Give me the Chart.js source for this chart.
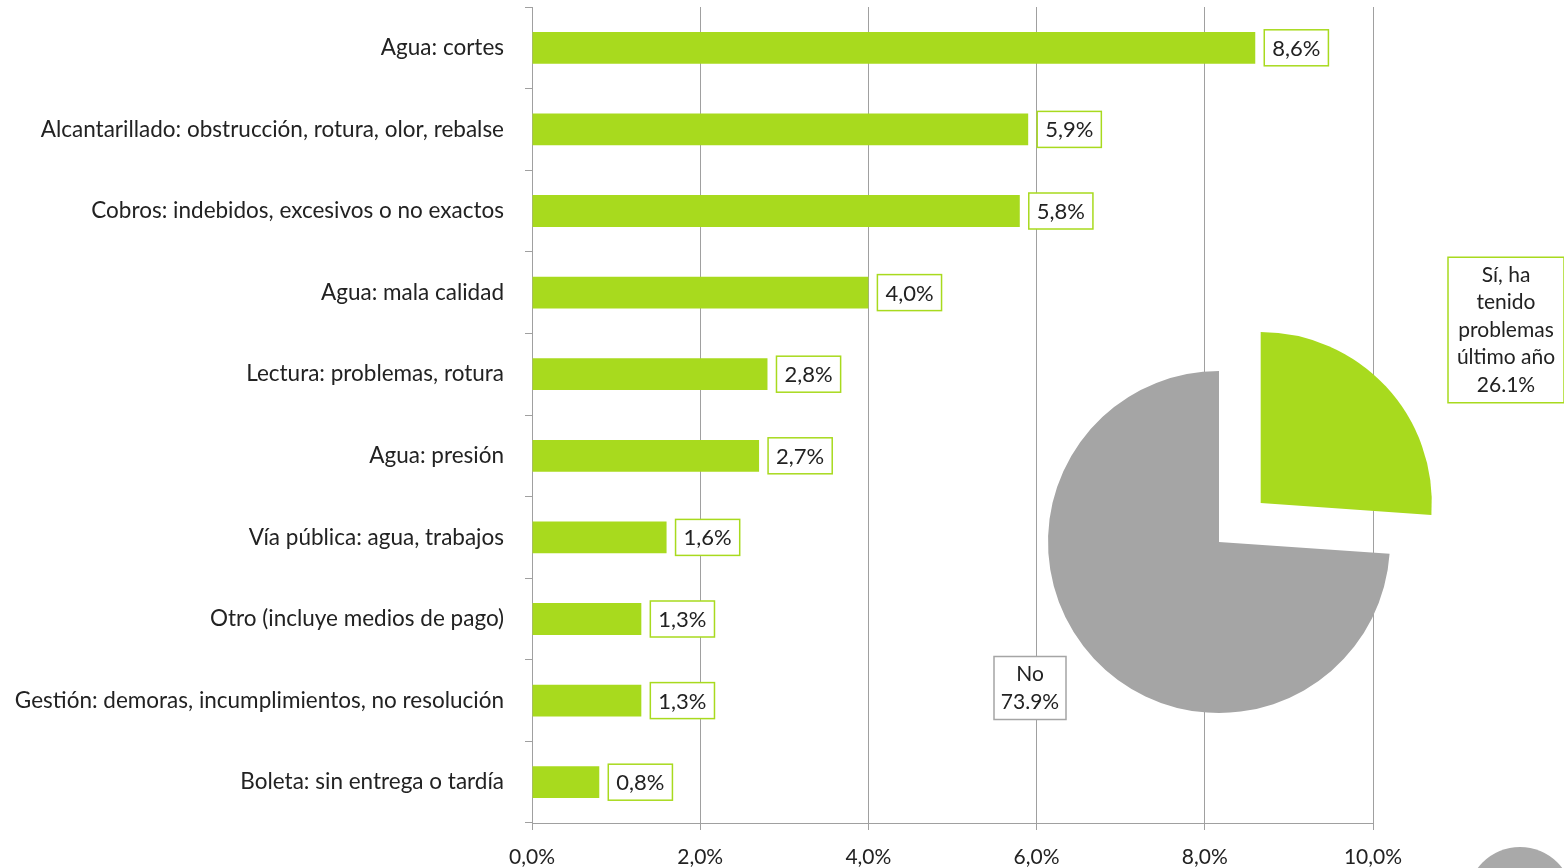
<!DOCTYPE html>
<html>
<head>
<meta charset="utf-8">
<script src="https://cdn.jsdelivr.net/npm/chart.js@4.4.1/dist/chart.umd.min.js"></script>
<style>
  html, body { margin: 0; padding: 0; background: #fff; }
  #wrap { position: relative; width: 1564px; height: 868px; overflow: hidden; }
  #wrap canvas { position: absolute; left: 0; top: 0; }
  #pieChart { pointer-events: none; }
</style>
</head>
<body>
<div id="wrap">
  <canvas id="barChart" width="1564" height="868"></canvas>
  <canvas id="pieChart" width="1564" height="868"></canvas>
</div>
<script>
const categories = [
    'Agua: cortes',
    'Alcantarillado: obstrucción, rotura, olor, rebalse',
    'Cobros: indebidos, excesivos o no exactos',
    'Agua: mala calidad',
    'Lectura: problemas, rotura',
    'Agua: presión',
    'Vía pública: agua, trabajos',
    'Otro (incluye medios de pago)',
    'Gestión: demoras, incumplimientos, no resolución',
    'Boleta: sin entrega o tardía'
];
const problemShares = [8.6, 5.9, 5.8, 4.0, 2.8, 2.7, 1.6, 1.3, 1.3, 0.8];
const xTicks = [0, 2, 4, 6, 8, 10];

const pieLabels = [['Sí, ha', 'tenido', 'problemas', 'último año'], ['No']];
const pieValues = [26.1, 73.9];

const FONT = 'Lato';
const TEXT = '#222222';
const GREEN = '#a8da1e';
const GRAY = '#a5a5a5';
const GRID = '#a0a0a0';

Chart.defaults.font.family = FONT;
Chart.defaults.color = TEXT;

const fmt = v => v.toFixed(1).replace('.', ',') + '%';

const barLabels = {
    id: 'barLabels',
    afterDatasetsDraw(chart) {
        const ctx = chart.ctx;
        const meta = chart.getDatasetMeta(0);
        ctx.save();
        ctx.font = '22px ' + FONT;
        ctx.textBaseline = 'middle';
        meta.data.forEach((bar, i) => {
            const txt = fmt(problemShares[i]);
            const w = ctx.measureText(txt).width + 16;
            const x = bar.x + 9;
            const h = 36;
            ctx.fillStyle = '#fff';
            ctx.fillRect(x, bar.y - h / 2, w, h);
            ctx.strokeStyle = GREEN;
            ctx.lineWidth = 1.5;
            ctx.strokeRect(x, bar.y - h / 2, w, h);
            ctx.fillStyle = TEXT;
            ctx.textAlign = 'left';
            ctx.fillText(txt, x + 8, bar.y + 1);
        });
        ctx.restore();
    }
};

new Chart(document.getElementById('barChart'), {
    type: 'bar',
    data: {
        labels: categories,
        datasets: [{
            data: problemShares,
            backgroundColor: GREEN,
            borderWidth: 0,
            categoryPercentage: 1,
            barPercentage: 0.39
        }]
    },
    options: {
        indexAxis: 'y',
        responsive: false,
        animation: false,
        layout: { padding: { top: 7, right: 191, bottom: 0, left: 0 } },
        plugins: { legend: { display: false }, tooltip: { enabled: false } },
        scales: {
            x: {
                min: 0,
                max: 10,
                afterBuildTicks: axis => { axis.ticks = xTicks.map(v => ({ value: v })); },
                afterFit: axis => { axis.height = 45; axis.paddingLeft = 0; axis.paddingRight = 0; },
                grid: { color: GRID, lineWidth: 1, tickLength: 7 },
                border: { color: GRID },
                ticks: {
                    padding: 15,
                    font: { size: 21 },
                    color: TEXT,
                    callback: v => fmt(v)
                }
            },
            y: {
                afterFit: axis => { axis.width = 532; axis.paddingTop = 0; axis.paddingBottom = 0; },
                grid: { drawOnChartArea: false, offset: true, tickLength: 7, color: GRID },
                border: { color: GRID },
                ticks: { padding: 21, font: { size: 22.5 }, color: TEXT }
            }
        }
    },
    plugins: [barLabels]
});

const pieBoxes = {
    id: 'pieBoxes',
    afterDatasetsDraw(chart) {
        const ctx = chart.ctx;
        const ca = chart.chartArea;
        const cx = (ca.left + ca.right) / 2;
        const cy = (ca.top + ca.bottom) / 2;
        const spots = [
            { dx: 287, dy: -212, w: 116, border: GREEN },
            { dx: -189, dy: 146, w: 72, border: GRAY }
        ];
        ctx.save();
        ctx.font = '21px ' + FONT;
        ctx.textAlign = 'center';
        ctx.textBaseline = 'middle';
        pieValues.forEach((v, i) => {
            const lines = pieLabels[i].concat([v.toFixed(1) + '%']);
            const lh = 27.5;
            const s = spots[i];
            const h = lines.length * lh + 8;
            const x = cx + s.dx - s.w / 2;
            const y = cy + s.dy - h / 2;
            ctx.fillStyle = '#fff';
            ctx.fillRect(x, y, s.w, h);
            ctx.strokeStyle = s.border;
            ctx.lineWidth = 1.5;
            ctx.strokeRect(x, y, s.w, h);
            ctx.fillStyle = TEXT;
            lines.forEach((t, j) => {
                ctx.fillText(t, cx + s.dx, y + 4 + lh * (j + 0.5));
            });
        });
        // corner logo (grey disc peeking in at the bottom right)
        ctx.fillStyle = '#a9a9a9';
        ctx.beginPath();
        ctx.arc(chart.width - 44, chart.height + 32, 53, 0, Math.PI * 2);
        ctx.fill();
        ctx.restore();
    }
};

new Chart(document.getElementById('pieChart'), {
    type: 'pie',
    data: {
        labels: ['Sí, ha tenido problemas último año', 'No'],
        datasets: [{
            data: pieValues,
            backgroundColor: [GREEN, GRAY],
            borderWidth: 0,
            offset: [228, 0]
        }]
    },
    options: {
        responsive: false,
        animation: false,
        radius: 171,
        layout: { padding: { left: 893, right: 19, top: 216, bottom: 0 } },
        plugins: { legend: { display: false }, tooltip: { enabled: false } }
    },
    plugins: [pieBoxes]
});
</script>
</body>
</html>
